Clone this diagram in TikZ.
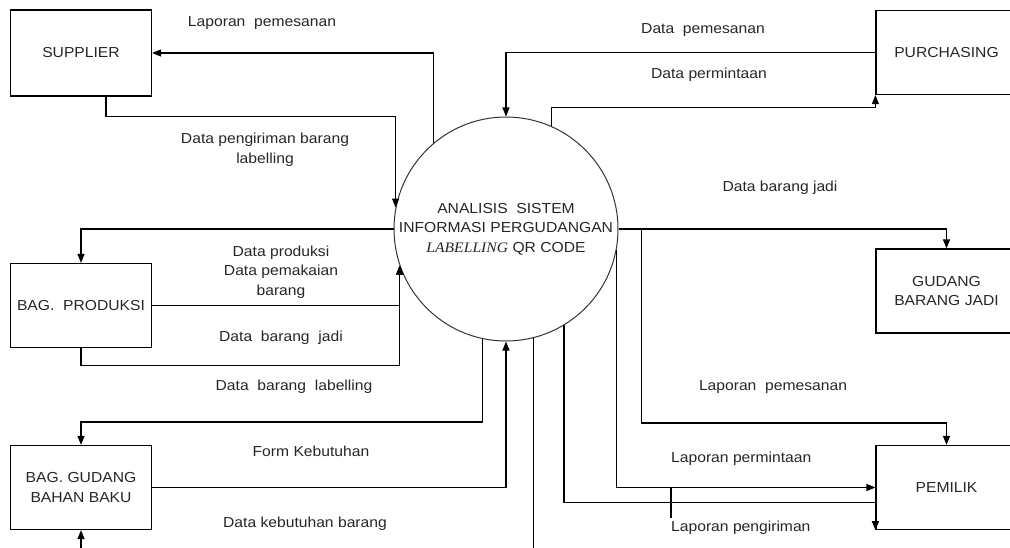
\documentclass[tikz,border=0pt]{standalone}
\usepackage{fontspec}
\setmainfont[FakeStretch=1.08]{Liberation Sans}
\newfontfamily\serifit[FakeStretch=1.08]{Liberation Serif}
\usetikzlibrary{arrows.meta}

\begin{document}
\begin{tikzpicture}[
                    x=1pt, y=-1pt,
                    every node/.style={font=\fontsize{14.5}{19.5}\selectfont, text=black!85},
                    box/.style={draw=black, line width=1.2pt, minimum width=141pt, minimum height=84pt, inner sep=0pt, align=center},
                    proc/.style={circle, draw=black!80, line width=1pt, minimum size=224pt, inner sep=0pt, align=center},
                    flow/.style={draw=black, line width=1.2pt, -{Triangle[length=9pt,width=7pt]}},
                    link/.style={draw=black, line width=1.2pt},
                    lbl/.style={align=center, inner sep=0pt},
                ]
                \useasboundingbox (0,0) rectangle (1010,548);
                \clip (0,0) rectangle (1010,548);
                \node[proc] (sis) at (506,229) {ANALISIS~~SISTEM\\INFORMASI PERGUDANGAN\\{\serifit\itshape LABELLING} QR CODE};
                \node[box, minimum height=86pt] (sup) at (81,53) {SUPPLIER};
                \node[box] (pur) at (946.5,52.5) {PURCHASING};
                \node[box] (gbj) at (946.5,291) {GUDANG\\BARANG JADI};
                \node[box] (pem) at (946.5,487.5) {PEMILIK};
                \node[box] (prd) at (81,305.5) {BAG.~~PRODUKSI};
                \node[box] (bbk) at (81,487.5) {BAG. GUDANG\\BAHAN BAKU};
                \draw[flow] (sis.130) |- (sup.east);
                \draw[flow] ([xshift=25pt]sup.south) -- ++(0,20) -| (sis.169);
                \draw[flow] (pur.west) -| (sis.north);
                \draw[flow] (sis.66) -- ++(0,-19) -| (pur.south west);
                \draw[flow] (sis.east) -| (gbj.north);
                \draw[flow] (sis.east) -| ++(23,194) -| (pem.north);
                \draw[flow] (sis.-11) |- (pem.west);
                \draw[flow] (sis.-59) |- ([yshift=-15pt]pem.west) -- (pem.south west);
                \coordinate (tick) at (671,487);
                \draw[link] (tick) -- ++(0,31);
                \draw[flow] (sis.-76) -- ++(0,230) -| (bbk.south);
                \draw[flow] (bbk.east) -| (sis.south);
                \draw[flow] (sis.-102) |- ([yshift=23pt]bbk.north) -- (bbk.north);
                \draw[flow] (prd.east) -| (sis.199);
                \draw[flow] (prd.south) -- ++(0,17) -| (sis.199);
                \draw[flow] (sis.west) -| (prd.north);
                \node[lbl] (lsup) at (262,23) {Laporan~~pemesanan};
                \node[lbl] (dsup) at (265,150) {Data pengiriman barang\\labelling};
                \node[lbl] (dpms) at (703,30) {Data~~pemesanan};
                \node[lbl] (dprm) at (709,75) {Data permintaan};
                \node[lbl] (dbjg) at (780,188) {Data barang jadi};
                \node[lbl] (dprd) at (281,272) {Data produksi\\Data pemakaian\\barang};
                \node[lbl] (dbjp) at (281,338) {Data~~barang~~jadi};
                \node[lbl] (dblb) at (294,387) {Data~~barang~~labelling};
                \node[lbl] (fkeb) at (311,451) {Form Kebutuhan};
                \node[lbl] (dkeb) at (305,524) {Data kebutuhan barang};
                \node[lbl] (lpms) at (773,387) {Laporan~~pemesanan};
                \node[lbl, anchor=west] (lprm) at (671,459) {Laporan permintaan};
                \node[lbl, anchor=west] (lpng) at (671,528) {Laporan pengiriman};
                \end{tikzpicture}
\end{document}
